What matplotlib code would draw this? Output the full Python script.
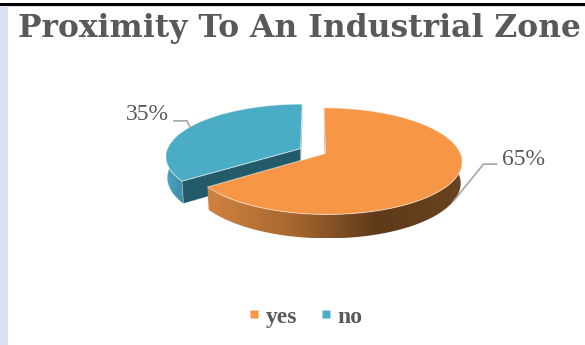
import numpy as np
import matplotlib.pyplot as plt
from matplotlib.patches import Polygon, Rectangle
from matplotlib.lines import Line2D
from matplotlib.colors import LinearSegmentedColormap

# Survey answers
labels = ['yes', 'no']
shares = [65, 35]
top_colors = ['#F79646', '#4BACC6']
side_colors = [['#D08242', '#A8672F', '#5F3A1B', '#6A421F'],
               ['#4CA5C0', '#3E8CA6']]
face_colors = ['#6B4020', '#235B6B']

title = 'Proximity To An Industrial Zone'
text_gray = '#595959'
serif = ['Liberation Serif', 'DejaVu Serif']

# 3D pie set-up (pixel units)
phi = np.radians(22.6)     # elevation
R = 134                    # radius
h = 23                     # thickness
D = 866                    # perspective distance
cx, cy = 313, 151          # screen position of pie centre
explode = 14


def proj(u, v, w=0.0):
    u = np.asarray(u, float)
    v = np.asarray(v, float)
    yc = v * np.sin(phi) + w * np.cos(phi)
    dep = v * np.cos(phi) - w * np.sin(phi)
    s = D / (D + dep)
    return cx + s * u, cy - s * yc


fig = plt.figure(figsize=(5.85, 3.45), dpi=100)
ax = fig.add_axes([0, 0, 1, 1])
ax.set_xlim(0, 585)
ax.set_ylim(345, 0)
ax.axis('off')

# frame bits
ax.add_patch(Rectangle((0, 5.5), 585, 1.6, color='#D9E1F2', lw=0))
ax.add_patch(Rectangle((0, 6), 7.5, 340, color='#D9E1F2', lw=0))
ax.add_patch(Rectangle((0, 3.3), 585, 2.3, color='black', lw=0))

# title, sized to run across the top
t = ax.text(18, 28, title, fontsize=22, fontweight='bold', family=['DejaVu Serif'],
            color=text_gray, ha='left', va='center')
r = fig.canvas.get_renderer()
w = t.get_window_extent(r).width
t.set_fontsize(22 * 562 / w)

# build slices, clockwise from 12 o'clock
slices = []
start = 90.0
for i, share in enumerate(shares):
    t1 = start
    t0 = start - 360 * share / 100
    mid = np.radians((t0 + t1) / 2)
    slices.append(dict(i=i, t0=t0, t1=t1, mid=mid,
                       ou=explode * np.cos(mid), ov=explode * np.sin(mid)))
    start = t0

cam = np.array([0, -D * np.cos(phi), D * np.sin(phi)])


def rim(s, a0, a1, w, n=150):
    th = np.radians(np.linspace(a0, a1, n))
    return proj(s['ou'] + R * np.cos(th), s['ov'] + R * np.sin(th), w)


def radial_face(s, a, normal_deg):
    n = np.array([np.cos(np.radians(normal_deg)), np.sin(np.radians(normal_deg)), 0])
    apex = np.array([s['ou'], s['ov'], 0])
    if np.dot(n, cam - apex) <= 0:
        return
    ra = np.radians(a)
    pu = [s['ou'], s['ou'] + R * np.cos(ra)]
    pv = [s['ov'], s['ov'] + R * np.sin(ra)]
    xt, yt = proj(pu, pv, 0)
    xb, yb = proj(pu, pv, -h)
    pts = [(xt[0], yt[0]), (xt[1], yt[1]), (xb[1], yb[1]), (xb[0], yb[0])]
    ax.add_patch(Polygon(pts, closed=True, facecolor=face_colors[s['i']],
                         edgecolor=(1, 1, 1, 0.5), lw=0.5, zorder=2))


# back slices first
for s in sorted(slices, key=lambda d: -d['ov']):
    i = s['i']
    # outer wall, front half only
    lo = s['t0'] % 360
    hi = lo + (s['t1'] - s['t0'])
    a0, a1 = max(lo, 180), min(hi, 360)
    if a1 <= a0:
        a0, a1 = max(lo - 360, -180), min(hi - 360, 0)
    if a1 > a0:
        xt, yt = rim(s, a0, a1, 0)
        xb, yb = rim(s, a0, a1, -h)
        wall = np.column_stack([np.r_[xt, xb[::-1]], np.r_[yt, yb[::-1]]])
        wpatch = Polygon(wall, closed=True, facecolor='none', edgecolor='none')
        ax.add_patch(wpatch)
        cmap = LinearSegmentedColormap.from_list('wall%d' % i, side_colors[i])
        grad = np.linspace(0, 1, 256)[None, :]
        im = ax.imshow(grad, cmap=cmap, aspect='auto', zorder=2,
                       extent=[wall[:, 0].min(), wall[:, 0].max(),
                               wall[:, 1].max(), wall[:, 1].min()])
        im.set_clip_path(wpatch)

    radial_face(s, s['t0'], s['t0'] - 90)
    radial_face(s, s['t1'], s['t1'] + 90)

    # top surface
    xt, yt = rim(s, s['t0'], s['t1'], 0)
    ax_, ay_ = proj(s['ou'], s['ov'], 0)
    top = np.column_stack([np.r_[ax_, xt], np.r_[ay_, yt]])
    ax.add_patch(Polygon(top, closed=True, facecolor=top_colors[i],
                         edgecolor=(1, 1, 1, 0.55), lw=0.7, zorder=3))

ax.set_xlim(0, 585)
ax.set_ylim(345, 0)

# data labels with leader lines
lead = '#A6A6A6'
for s in slices:
    i = s['i']
    mu = s['ou'] + R * np.cos(s['mid'])
    mv = s['ov'] + R * np.sin(s['mid'])
    txt = '%d%%' % shares[i]
    if np.sin(s['mid']) < 0:
        px, py = proj(mu, mv, -h)
        ex, ey = px + 30, py - 37
        fx = ex + 13
        ax.plot([px, ex, fx], [py, ey, ey], color=lead, lw=1.2, zorder=4)
        ax.text(fx + 6, ey - 5, txt, fontsize=17, family=serif, color=text_gray,
                ha='left', va='center')
    else:
        px, py = proj(mu, mv, 0)
        ex, ey = px - 3, py - 6
        fx = ex - 13
        ax.plot([px, ex, fx], [py, ey, ey], color=lead, lw=1.2, zorder=4)
        ax.text(fx - 5, ey - 6, txt, fontsize=17, family=serif, color=text_gray,
                ha='right', va='center')

handles = [Line2D([], [], marker='s', ls='none', markersize=6,
                  markerfacecolor=c, markeredgecolor='none') for c in top_colors]
fig.legend(handles, labels, loc='center', bbox_to_anchor=(305 / 585, 1 - 317 / 345),
           ncol=2, frameon=False, labelcolor=text_gray, handlelength=0.6,
           handletextpad=0.2, columnspacing=0.9,
           prop={'family': serif, 'size': 17, 'weight': 'bold'})

fig.savefig('out.png', dpi=100)
